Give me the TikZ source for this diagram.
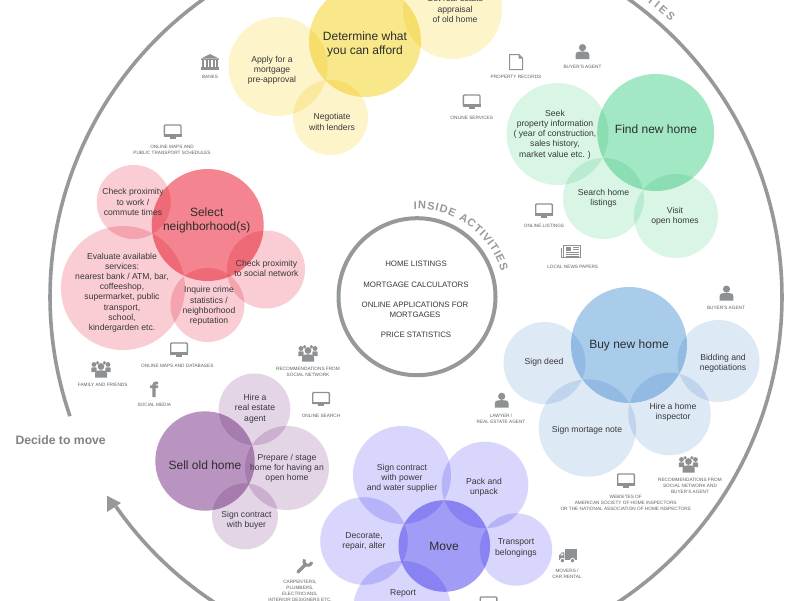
\documentclass[tikz,border=0pt]{standalone}
\usepackage{fontspec}
\setmainfont{Liberation Sans}
\usetikzlibrary{arrows.meta,decorations.text}
\definecolor{ringgray}{HTML}{96999C}
\definecolor{icongray}{HTML}{8E9194}
\definecolor{inktext}{HTML}{38383A}
\definecolor{ylight}{HTML}{FDF4CA}\definecolor{ymain}{HTML}{F8E889}
\definecolor{glight}{HTML}{D9F5E6}\definecolor{gmain}{HTML}{A3E8C5}
\definecolor{blight}{HTML}{DEE9F6}\definecolor{bmain}{HTML}{A9CCEB}
\definecolor{rlight}{HTML}{F9CDD3}\definecolor{rmain}{HTML}{F4848F}
\definecolor{plight}{HTML}{E4D5E6}\definecolor{pmain}{HTML}{BA94C0}
\definecolor{ilight}{HTML}{D8D6FC}\definecolor{imain}{HTML}{A19CF5}
\newcommand{\insidefont}{\fontsize{11}{11}\selectfont\bfseries\color{ringgray}}
\tikzset{
  stepbody/.style={align=center,text=inktext,inner sep=0pt,font=\fontsize{8.6}{10.2}\selectfont},
  mainbody/.style={align=center,text=inktext!80!black,inner sep=0pt,font=\fontsize{12}{14.2}\selectfont},
  srclabel/.style={align=center,text=black!62,inner sep=0pt,font=\fontsize{4.7}{6.1}\selectfont},
  midlabel/.style={align=center,text=inktext,inner sep=0pt,font=\fontsize{7.85}{10.2}\selectfont},
  ringline/.style={draw=ringgray,line width=3.6pt},
  iconfill/.style={fill=icongray,draw=none},
  iconline/.style={draw=icongray,line width=0.9pt},
  iconmon/.pic={
    \draw[iconline,fill=white,rounded corners=1pt,line width=1.4pt] (-8.3,-7) rectangle (8.3,4);
    \fill[icongray] (-9,2) rectangle (9,4.7);
    \fill[icongray] (-2.8,4.7) rectangle (2.8,6.6);
  },
  iconperson/.pic={
    \fill[iconfill] (0,-4.4) circle[radius=3.6];
    \fill[iconfill] (-6.8,7) -- (-6.8,2.5) .. controls (-6.8,-0.5) and (-3,-0.6) .. (0,-0.6) .. controls (3,-0.6) and (6.8,-0.5) .. (6.8,2.5) -- (6.8,7) -- cycle;
  },
  iconpeople/.pic={
    \foreach \dx in {-7,7}{
      \fill[iconfill] (\dx,-5.5) circle[radius=2.4];
      \fill[iconfill] (\dx-2.7,2.2) -- (\dx-2.7,-2) .. controls (\dx-2.7,-3) and (\dx+2.7,-3) .. (\dx+2.7,-2) -- (\dx+2.7,2.2) -- cycle;
    }
    \foreach \dx in {-3.4,3.4}{
      \fill[iconfill] (\dx,-7.2) circle[radius=1.8];
    }
    \fill[iconfill] (0,-3.5) circle[radius=3.4];
    \fill[iconfill] (-6,7.5) -- (-6,3) .. controls (-6,0.4) and (-3,0.3) .. (0,0.3) .. controls (3,0.3) and (6,0.4) .. (6,3) -- (6,7.5) -- cycle;
  },
  iconbank/.pic={
    \fill[iconfill] (-9,-3.5) -- (0,-8) -- (9,-3.5) -- cycle;
    \fill[iconfill] (-9,-3) rectangle (9,-2);
    \foreach \dx in {-7,-3.5,0,3.5,7}{\fill[iconfill] (\dx-1,-1.6) rectangle (\dx+1,4.6);}
    \fill[iconfill] (-9,5) rectangle (9,7.5);
  },
  icondoc/.pic={
    \draw[iconline,fill=white,line width=1pt,line join=round] (-6.5,-7.5) -- (3,-7.5) -- (6.5,-4) -- (6.5,7.5) -- (-6.5,7.5) -- cycle;
    \fill[iconfill] (2.5,-7.5) -- (6.5,-3.5) -- (2.5,-3.5) -- cycle;
  },
  iconnews/.pic={
    \draw[iconline,fill=white] (-7.5,-6) rectangle (9.5,6.5);
    \draw[iconline] (-9.2,-3.5) -- (-9.2,6.5) -- (-7.5,6.5);
    \fill[icongray] (-5.5,-4) rectangle (0,-0.5);
    \foreach \yy in {1,2.8,4.6}{\fill[icongray] (-5.5,\yy) rectangle (7.5,\yy+0.9);}
    \foreach \yy in {-4,-2.2}{\fill[icongray] (1.5,\yy) rectangle (7.5,\yy+0.9);}
  },
  iconf/.pic={
    \fill[iconfill] (-1.6,7.5) -- (-1.6,-1.5) -- (-4,-1.5) -- (-4,-4.2) -- (-1.6,-4.2) -- (-1.6,-5.2) .. controls (-1.6,-7.8) and (0.4,-8) .. (4.2,-7.8) -- (4.2,-5.2) .. controls (2,-5.3) and (1.5,-5.4) .. (1.5,-4.2) -- (4.2,-4.2) -- (3.8,-1.5) -- (1.5,-1.5) -- (1.5,7.5) -- cycle;
  },
  iconwrench/.pic={
    \draw[icongray,line width=3.4pt,line cap=round] (-6,6) -- (1.5,-1.5);
    \draw[icongray,line width=3pt] (0.6,-6.6) .. controls (-1.2,-3.4) and (1.2,-0.2) .. (5,-0.8) .. controls (6.8,-1.2) and (7.6,-2.6) .. (7.6,-4);
  },
  icontruck/.pic={
    \fill[iconfill] (-3,-7) rectangle (9,4);
    \fill[iconfill] (-9,4) -- (-9,-0.5) -- (-6.2,-3.6) -- (-3.6,-3.6) -- (-3.6,4) -- cycle;
    \fill[white] (-7.8,-0.6) -- (-5.8,-2.6) -- (-4.8,-2.6) -- (-4.8,-0.6) -- cycle;
    \draw[white,fill=icongray,line width=0.8pt] (-5.6,4.6) circle[radius=2.3] (4.5,4.6) circle[radius=2.3];
  },
}
\begin{document}
\begin{tikzpicture}[x=1pt,y=-1pt]
\useasboundingbox (0,0) rectangle (800,600);
\fill[white] (0,0) rectangle (800,600);
\clip (0,0) rectangle (800,600);

% outer cycle
\draw[ringline] plot[domain=199:-145.1,samples=240] ({416+366*cos(\x)},{297-366*sin(\x)});
\fill[ringgray] (107,495.7) -- (107,512) -- (121,503) -- cycle;
\path[decorate,decoration={text along path,text align={fit to path},text={|\insidefont|OUTSIDE ACTIVITIES}}]
  plot[domain=71:47.2,samples=60] ({416+375*cos(\x)},{297-375*sin(\x)});
\node (decide) at (60.7,440) [text=ringgray!85!black,inner sep=0pt,font=\fontsize{12.2}{13}\selectfont\bfseries] {Decide to move};

% inner ring
\draw[ringline,line width=4pt] (417,296.7) circle[radius=78.5];
\path[decorate,decoration={text along path,text align={fit to path},text={|\insidefont|INSIDE ACTIVITIES}}]
  plot[domain=92:17,samples=60] ({417+88*cos(\x)},{297-88*sin(\x)});

\begin{scope}[blend group=multiply]
% yellow
\fill[ylight] (452.5,9.5) circle[radius=49.5];
\fill[ylight] (278,66.5) circle[radius=49.5];
\fill[ylight] (330.5,117.5) circle[radius=37.5];
\fill[ymain] (365,41) circle[radius=56];
% green
\fill[glight] (557.5,134) circle[radius=51];
\fill[glight] (603.5,198.5) circle[radius=40.5];
\fill[glight] (676,216) circle[radius=42];
\fill[gmain] (655.7,132.5) circle[radius=58.5];
% blue
\fill[blight] (544.5,363) circle[radius=41];
\fill[blight] (718.5,361) circle[radius=41];
\fill[blight] (587.5,428) circle[radius=48.7];
\fill[blight] (669.5,414) circle[radius=41.3];
\fill[bmain] (629,345) circle[radius=58];
% red
\fill[rlight] (133.7,202) circle[radius=37];
\fill[rlight] (123,288) circle[radius=62];
\fill[rlight] (266,269.5) circle[radius=39];
\fill[rlight] (207.5,305) circle[radius=37];
\fill[rmain] (207.7,225) circle[radius=56];
% purple
\fill[plight] (254.5,409.3) circle[radius=35.8];
\fill[plight] (287,468) circle[radius=42];
\fill[plight] (245,516.3) circle[radius=33];
\fill[pmain] (205,461) circle[radius=49.7];
% indigo
\fill[ilight] (402,475) circle[radius=49];
\fill[ilight] (485,485) circle[radius=43.3];
\fill[ilight] (516,549.5) circle[radius=36.2];
\fill[ilight] (364,541) circle[radius=43.8];
\fill[ilight] (402,610) circle[radius=49];
\fill[imain] (444.3,546) circle[radius=45.8];
\end{scope}

% step headings
\node[mainbody] (afford) at (365,44.5) {Determine what\\you can afford};
\node[mainbody] (findhome) at (656,129) {Find new home};
\node[mainbody] (buyhome) at (629,345) {Buy new home};
\node[mainbody] (hood) at (206.7,220) {Select\\neighborhood(s)};
\node[mainbody] (sellhome) at (205,465) {Sell old home};
\node[mainbody] (moveit) at (444,546) {Move};

% step texts
\node[stepbody] (appraisal) at (455,9) {Get real estate\\appraisal\\of old home};
\node[stepbody] (preappr) at (272,70.5) {Apply for a\\mortgage\\pre-approval};
\node[stepbody] (lenders) at (332,122) {Negotiate\\with lenders};
\node[stepbody] (seek) at (555,134.5) {Seek\\property information\\( year of construction,\\sales history,\\market value etc. )};
\node[stepbody] (search) at (603.5,198.5) {Search home\\listings};
\node[stepbody] (visit) at (675,216) {Visit\\open homes};
\node[stepbody] (deed) at (544,362) {Sign deed};
\node[stepbody] (bidding) at (723,363) {Bidding and\\negotiations};
\node[stepbody] (mnote) at (587,430) {Sign mortage note};
\node[stepbody] (inspector) at (673,412) {Hire a home\\inspector};
\node[stepbody] (work) at (133,202) {Check proximity\\to work /\\commute times};
\node[stepbody] (services) at (122,292.5) {Evaluate available\\services:\\nearest bank / ATM, bar,\\coffeeshop,\\supermarket, public\\transport,\\school,\\kindergarden etc.};
\node[stepbody] (social) at (266.5,268.7) {Check proximity\\to social network};
\node[stepbody] (crime) at (209,306) {Inquire crime\\statistics /\\neighborhood\\reputation};
\node[stepbody] (agent) at (255,408.7) {Hire a\\real estate\\agent};
\node[stepbody] (stage) at (287,468.3) {Prepare / stage\\home for having an\\open home};
\node[stepbody] (buyer) at (246.5,520) {Sign contract\\with buyer};
\node[stepbody] (power) at (402,478) {Sign contract\\with power\\and water supplier};
\node[stepbody] (pack) at (484,487) {Pack and\\unpack};
\node[stepbody] (decorate) at (364,541.7) {Decorate,\\repair, alter};
\node[stepbody] (transport) at (516,548) {Transport\\belongings};
\node[stepbody] (report) at (403,593) {Report};

% centre
\node[midlabel] (listings) at (416,264) {HOME LISTINGS};
\node[midlabel] (calc) at (416,284.7) {MORTGAGE CALCULATORS};
\node[midlabel] (apps) at (415,310) {ONLINE APPLICATIONS FOR\\MORTGAGES};
\node[midlabel] (stats) at (416,335) {PRICE STATISTICS};

% source icons and labels
\pic at (210,62) {iconbank};
\node[srclabel] (banks) at (210,77) {BANKS};
\pic at (516,62) {icondoc};
\node[srclabel] (records) at (516,77) {PROPERTY RECORDS};
\pic at (582.5,52) {iconperson};
\node[srclabel] (agent1) at (582.5,66.7) {BUYER'S AGENT};
\pic at (471.7,102) {iconmon};
\node[srclabel] (services1) at (471.7,118) {ONLINE SERVICES};
\pic at (172.7,132) {iconmon};
\node[srclabel] (maps1) at (172,150) {ONLINE MAPS AND\\PUBLIC TRANSPORT SCHEDULES};
\pic at (544,211) {iconmon};
\node[srclabel] (listings1) at (544,226) {ONLINE LISTINGS};
\pic at (571,251) {iconnews};
\node[srclabel] (papers) at (572.7,266.7) {LOCAL NEWS PAPERS};
\pic at (726.5,293.5) {iconperson};
\node[srclabel] (agent2) at (726,308) {BUYER'S AGENT};
\pic at (501.7,400.7) {iconperson};
\node[srclabel] (lawyer) at (501,418.7) {LAWYER /\\REAL ESTATE AGENT};
\pic at (688.5,465) {iconpeople};
\node[srclabel] (recs1) at (690,486.2) {RECOMMENDATIONS FROM\\SOCIAL NETWORK AND\\BUYER'S AGENT};
\pic at (626,481) {iconmon};
\node[srclabel] (sites) at (625.7,503) {WEBSITES OF\\AMERICAN SOCIETY OF HOME INSPECTORS\\OR THE NATIONAL ASSOCIATION OF HOME INSPECTORS};
\pic at (179,350) {iconmon};
\node[srclabel] (maps2) at (177.3,365.7) {ONLINE MAPS AND DATABASES};
\pic at (101,370) {iconpeople};
\node[srclabel] (family) at (102.7,385.3) {FAMILY AND FRIENDS};
\pic at (154,389.5) {iconf};
\node[srclabel] (smedia) at (154.3,405) {SOCIAL MEDIA};
\pic at (308,354) {iconpeople};
\node[srclabel] (recs2) at (308,372) {RECOMMENDATIONS FROM\\SOCIAL NETWORK};
\pic at (321,399.5) {iconmon};
\node[srclabel] (searchon) at (321,415.7) {ONLINE SEARCH};
\pic at (568,556) {icontruck};
\node[srclabel] (movers) at (567,573.8) {MOVERS /\\CAR RENTAL};
\pic at (304,566) {iconwrench};
\node[srclabel] (trades) at (300,590.8) {CARPENTERS,\\PLUMBERS,\\ELECTRICIANS,\\INTERIOR DESIGNERS ETC.};
\pic at (488.5,604) {iconmon};
\end{tikzpicture}
\end{document}
